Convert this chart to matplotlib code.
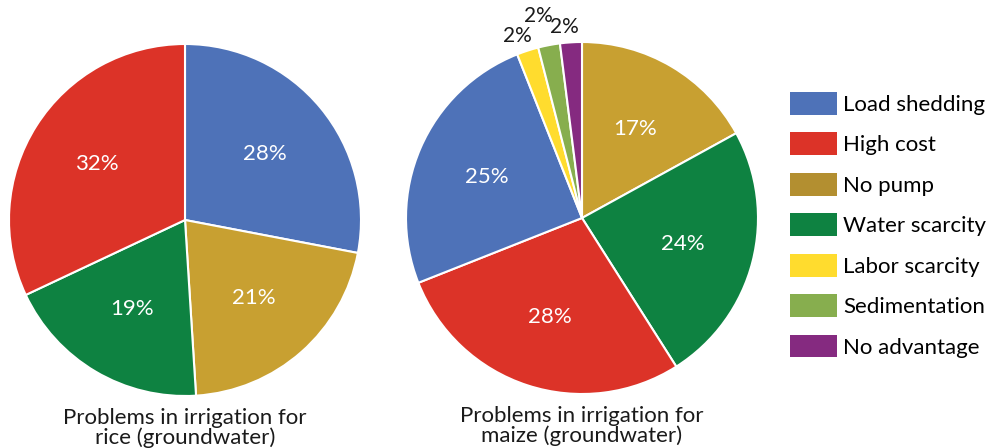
import numpy as np
import matplotlib
matplotlib.use("Agg")
import matplotlib.pyplot as plt
from matplotlib.patches import Patch

plt.rcParams["font.family"] = ["Lato", "DejaVu Sans"]

# Data
categories = ["Load shedding", "High cost", "No pump", "Water scarcity",
              "Labor scarcity", "Sedimentation", "No advantage"]
colors = {
    "Load shedding": "#4E72B8",
    "High cost": "#DC3328",
    "No pump": "#C8A031",
    "Water scarcity": "#0E8241",
    "Labor scarcity": "#FFDC2E",
    "Sedimentation": "#87AE4E",
    "No advantage": "#852A80",
}
legend_colors = dict(colors)
legend_colors["No pump"] = "#B38F30"

rice_labels = ["Load shedding", "No pump", "Water scarcity", "High cost"]
rice_values = [28, 21, 19, 32]

maize_labels = ["No pump", "Water scarcity", "High cost", "Load shedding",
                "Labor scarcity", "Sedimentation", "No advantage"]
maize_values = [17, 24, 28, 25, 2, 2, 2]

titles = ["Problems in irrigation for\nrice (groundwater)",
          "Problems in irrigation for\nmaize (groundwater)"]

W, H = 987, 448
fig = plt.figure(figsize=(W / 100, H / 100), dpi=100)


def pie_axes(cx, cy, r):
    ax = fig.add_axes([(cx - r) / W, 1 - (cy + r) / H, 2 * r / W, 2 * r / H])
    ax.set_aspect("equal")
    ax.axis("off")
    return ax


# radial distance of outside labels for the tiny slices
outside_dist = {"Labor scarcity": 1.09, "Sedimentation": 1.17, "No advantage": 1.09}


def draw_pie(ax, labels, values, title):
    wedges, texts, autotexts = ax.pie(
        values,
        colors=[colors[l] for l in labels],
        startangle=90,
        counterclock=False,
        radius=1,
        autopct="%d%%",
        pctdistance=0.59,
        wedgeprops=dict(edgecolor="white", linewidth=1.5),
        textprops=dict(color="white", fontsize=16),
        frame=True,
    )
    ax.set_xlim(-1, 1)
    ax.set_ylim(-1, 1)
    ax.axis("off")
    for i, (w, t) in enumerate(zip(wedges, autotexts)):
        if values[i] < 5:
            ang = np.deg2rad((w.theta1 + w.theta2) / 2)
            d = outside_dist[labels[i]]
            t.set_position((d * np.cos(ang) - 0.03, d * np.sin(ang)))
            t.set_color("#1a1a1a")
            t.set_fontsize(15)
    ax.text(0, -1.07, title, ha="center", va="top", fontsize=16,
            color="#1a1a1a", linespacing=0.95, clip_on=False)


ax1 = pie_axes(185, 220, 176)
draw_pie(ax1, rice_labels, rice_values, titles[0])

ax2 = pie_axes(582, 218, 176)
draw_pie(ax2, maize_labels, maize_values, titles[1])

handles = [Patch(facecolor=legend_colors[c], edgecolor="none", label=c)
           for c in categories]
fig.legend(handles=handles, loc="upper left",
           bbox_to_anchor=(790 / W, 1 - 92 / H),
           frameon=False, fontsize=16, handlelength=2.1, handleheight=1.2,
           handletextpad=0.3, labelspacing=0.79, borderaxespad=0,
           borderpad=0)

fig.savefig("out.png", dpi=100)
